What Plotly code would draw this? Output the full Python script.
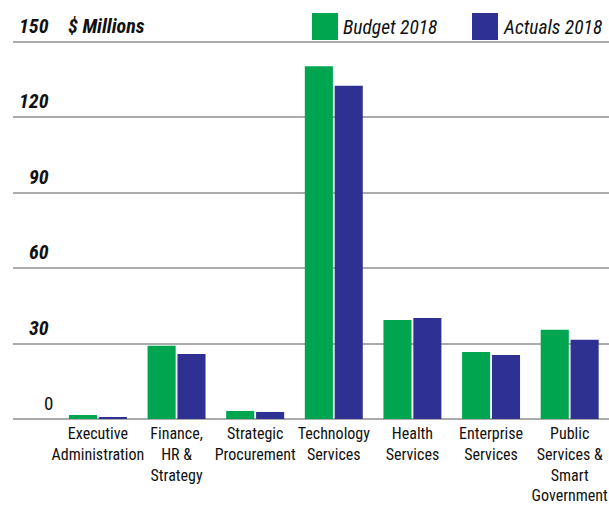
import plotly.graph_objects as go

# Departmental budget vs. actual spend, $ millions
categories = [
    "Executive<br>Administration",
    "Finance,<br>HR &<br>Strategy",
    "Strategic<br>Procurement",
    "Technology<br>Services",
    "Health<br>Services",
    "Enterprise<br>Services",
    "Public<br>Services &<br>Smart<br>Government",
]
budget_2018 = [1.6, 29.1, 3.2, 140.4, 39.4, 26.7, 35.5]
actuals_2018 = [0.8, 25.9, 2.8, 132.6, 40.2, 25.5, 31.5]
y_ticks = [0, 30, 60, 90, 120, 150]

GREEN = "#00A550"
BLUE = "#2E3192"
GRID = "#ababab"
FONT = "Roboto Condensed, Roboto, sans-serif"

W, H = 609, 508
M_L, M_R, M_T, M_B = 13, 0, 41, 89
PLOT_W = W - M_L - M_R
PLOT_H = H - M_T - M_B


def px_x(px):
    """Pixel column -> paper x."""
    return (px - M_L) / PLOT_W


def px_y(py):
    """Pixel row -> paper y."""
    return (H - M_B - py) / PLOT_H


fig = go.Figure()
fig.add_trace(go.Bar(x=categories, y=budget_2018, name="Budget 2018",
                     marker=dict(color=GREEN, line=dict(width=0))))
fig.add_trace(go.Bar(x=categories, y=actuals_2018, name="Actuals 2018",
                     marker=dict(color=BLUE, line=dict(width=0))))

fig.update_layout(
    width=W, height=H,
    margin=dict(l=M_L, r=M_R, t=M_T, b=M_B, autoexpand=False),
    paper_bgcolor="white", plot_bgcolor="white",
    barmode="group", bargap=0.24, bargroupgap=0.06,
    showlegend=False,
    font=dict(family=FONT, size=16, color="#111111"),
)
fig.update_xaxes(
    range=[-1.08, 6.5], showgrid=False, zeroline=False, showline=False,
    ticks="", tickfont=dict(family=FONT, size=16, color="#111111"),
    tickangle=0, ticklabelstandoff=3, automargin=False,
)
fig.update_yaxes(
    range=[0, 150.4], tickvals=y_ticks, showticklabels=False,
    showgrid=True, gridcolor=GRID, gridwidth=1.6, automargin=False,
    zeroline=True, zerolinecolor=GRID, zerolinewidth=1.6, showline=False,
)

AXIS_FONT = dict(family=FONT, size=20, color="#111111", weight="bold", style="italic")

# Value labels sitting on top of each gridline
for v in y_ticks:
    if v == 0:
        fig.add_annotation(x=px_x(55), xref="paper", y=v, yref="y", text="0",
                           xanchor="right", yanchor="bottom", yshift=2,
                           showarrow=False,
                           font=dict(family=FONT, size=19, color="#111111"))
    else:
        fig.add_annotation(x=px_x(51), xref="paper", y=v, yref="y", text=str(v),
                           xanchor="right", yanchor="bottom", yshift=2,
                           showarrow=False, font=AXIS_FONT)

fig.add_annotation(x=px_x(66), xref="paper", y=150, yref="y", text="$ Millions",
                   xanchor="left", yanchor="bottom", yshift=2,
                   showarrow=False, font=AXIS_FONT)

# Legend drawn as swatches with labels
legend_items = [("Budget 2018", GREEN, 312), ("Actuals 2018", BLUE, 472)]
for label, color, px in legend_items:
    fig.add_shape(type="rect", xref="paper", yref="paper",
                  x0=px_x(px), x1=px_x(px + 26),
                  y0=px_y(40), y1=px_y(13),
                  fillcolor=color, line=dict(width=0))
    fig.add_annotation(x=px_x(px + 29), xref="paper", y=px_y(27),
                       yref="paper", text=label, xanchor="left", yanchor="middle",
                       showarrow=False,
                       font=dict(family=FONT, size=19.5, color="#111111",
                                 style="italic"))

fig.write_html("out.html")
